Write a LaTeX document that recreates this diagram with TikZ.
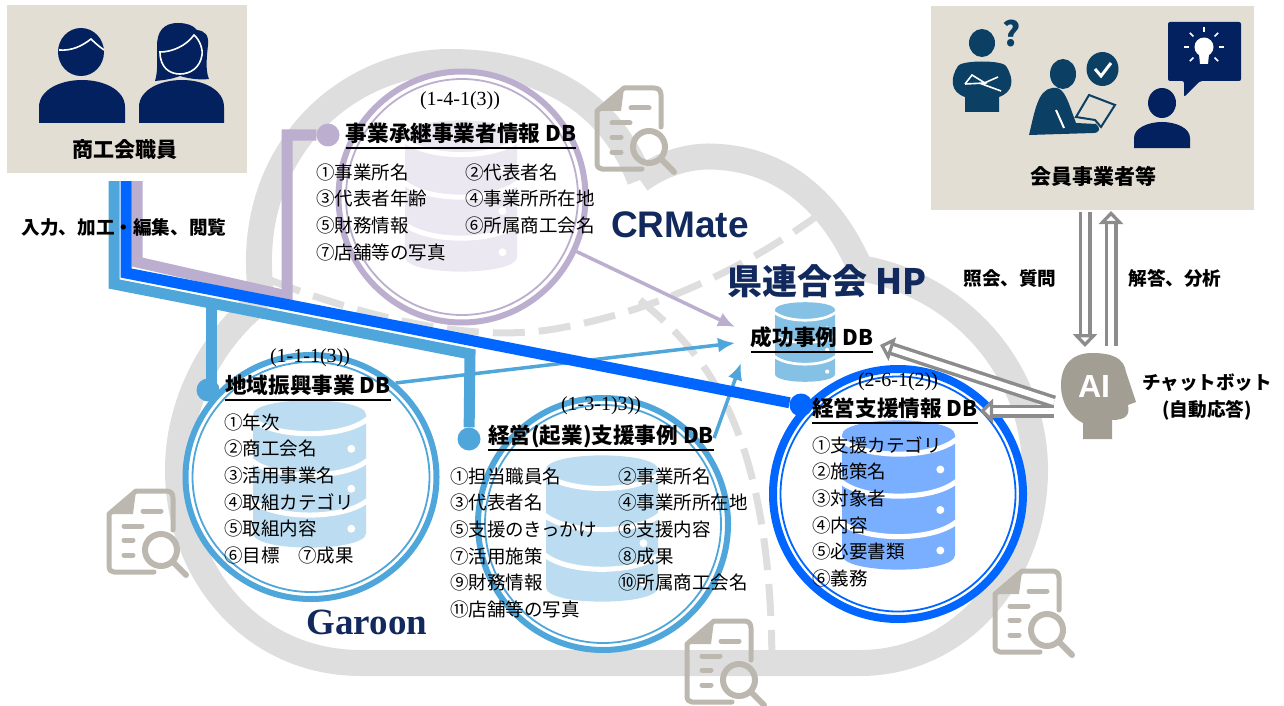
\documentclass[tikz,border=0pt]{standalone}
\usepackage{fontspec}
\setmainfont{Noto Sans CJK JP}
\newfontfamily\numfont{Liberation Serif}
\newfontfamily\logofont{Liberation Sans}
\usetikzlibrary{shapes, arrows, arrows.meta}
\definecolor{navy}{HTML}{03215F}
\definecolor{teal}{HTML}{0B3F63}
\definecolor{logonavy}{HTML}{12295E}
\definecolor{sand}{HTML}{E3DED3}
\definecolor{skyline}{HTML}{4FA6DA}
\definecolor{coreblue}{HTML}{0066FF}
\definecolor{lilac}{HTML}{BCAECF}
\definecolor{cloudgrey}{HTML}{DEDEDE}
\definecolor{icongrey}{HTML}{BDB8AF}
\definecolor{aigrey}{HTML}{A39E93}
\definecolor{hollowgrey}{HTML}{8C8C8C}
\tikzstyle{panel} =
	[
		rectangle,
		fill = sand,
		inner sep = 0pt
	]
\tikzstyle{ringout} =
	[
		ellipse,
		fill = white,
		line width = 6pt,
		inner sep = 0pt
	]
\tikzstyle{ringin} =
	[
		ellipse,
		line width = 1.8pt,
		inner sep = 0pt
	]
\tikzstyle{item} =
	[
		text width = 160pt,
		align = left,
		inner sep = 0pt,
		text height = 16pt,
		text depth = 4pt,
		node distance = 26.7pt,
		font = \fontsize{18.5}{20}\selectfont
	]
\tikzstyle{dbtitle} =
	[
		inner sep = 0pt,
		text height = 17pt,
		text depth = 7pt,
		font = \fontsize{21.6}{24}\selectfont\bfseries
	]
\tikzstyle{code} =
	[
		inner sep = 0pt,
		font = \fontsize{20}{22}\numfont
	]
\tikzstyle{caption} =
	[
		inner sep = 0pt,
		align = center,
		font = \fontsize{18.6}{27}\selectfont\bfseries
	]
\tikzstyle{dot} =
	[
		circle,
		inner sep = 0pt,
		minimum size = 23pt
	]
\tikzstyle{feed} =
	[
		draw,
		line width = 11pt,
		line join = miter
	]
\tikzstyle{line} =
	[
		draw,
		line width = 3.5pt,
		-{Latex[length = 17pt, width = 15pt]}
	]
\tikzstyle{hollow} =
	[
		draw = hollowgrey,
		line width = 3.5pt,
		double = white,
		double distance = 6pt,
		-{Triangle[open, fill = white, length = 13pt, width = 24pt, line width = 3.5pt]}
	]
\tikzstyle{underline} =
	[
		draw,
		line width = 2pt
	]
\newcommand{\dbicon}[5]{
	\begin{scope}[shift = {(#1,#2)}, x = #3pt, y = -#4pt]
		\fill [#5] (0,.1) .. controls (0,-.03) and (1,-.03) .. (1,.1) -- (1,.9) .. controls (1,1.03) and (0,1.03) .. (0,.9) -- cycle;
		\foreach \gap in {.13,.41,.68}
			\draw [white, line width = .045*#3pt] (-.01,\gap) .. controls (.2,\gap+.13) and (.8,\gap+.13) .. (1.01,\gap);
		\foreach \hole in {.33,.6,.87}
			\fill [white] (.87,\hole) circle (.035*#3pt);
	\end{scope}
}
\newcommand{\docicon}[2]{
	\begin{scope}[shift = {(#1,#2)}, draw = icongrey, line cap = round, line join = round]
		\draw [line width = 5pt] (67,42) -- (67,10) .. controls (67,5) and (64,3) .. (60,3) -- (30,3) -- (3,26) -- (3,78) .. controls (3,82) and (5,84) .. (8,84) -- (48,84);
		\fill [icongrey] (30,3) -- (3,26) -- (27,26) -- cycle;
		\draw [line width = 5pt] (37,23) -- (55,23) (18,38) -- (36,38) (18,52) -- (27,52) (18,67) -- (27,67);
		\draw [line width = 6pt] (55,62) circle (16pt) (67,74) -- (80,87);
	\end{scope}
}
\begin{document}
\begin{tikzpicture}[x = 1pt, y = -1pt, node distance = 26.7pt]
	\useasboundingbox (0,0) rectangle (1284,706);
	\draw [cloudgrey, line width = 26pt] (361,663) .. controls (250,663) and (178,570) .. (178,470) .. controls (178,400) and (215,335) .. (262,300);
	\draw [cloudgrey, line width = 26pt] (262,300) .. controls (240,160) and (340,62) .. (450,62) .. controls (540,62) and (610,100) .. (640,180);
	\draw [cloudgrey, line width = 26pt] (640,180) .. controls (670,158) and (700,155) .. (720,157) .. controls (790,162) and (835,210) .. (860,268);
	\draw [cloudgrey, line width = 26pt] (860,268) .. controls (960,285) and (1035,370) .. (1035,470) .. controls (1035,575) and (960,663) .. (860,663) -- (361,663);
	\draw [cloudgrey, line width = 7pt, dash pattern = on 32pt off 14pt] (270,280) .. controls (360,315) and (470,345) .. (560,328) .. controls (660,310) and (750,265) .. (821,213);
	\draw [cloudgrey, line width = 7pt, dash pattern = on 32pt off 14pt] (640,300) .. controls (700,350) and (772,420) .. (772,670);
	\docicon{594}{85}
	\docicon{106}{488}
	\docicon{684}{618}
	\docicon{992}{568}
	\node [panel, minimum width = 240pt, minimum height = 168pt] (staff) at (127,89) {};
	\node [panel, minimum width = 323pt, minimum height = 204pt] (member) at (1092.5,108) {};
	\fill [navy] (81,52) ellipse (23pt and 24pt);
	\draw [white, line width = 1.6pt] (59,50) .. controls (72,51) and (82,46) .. (91,39) .. controls (96,44) and (100,47) .. (104,50);
	\fill [navy] (39,123) -- (39,107) .. controls (39,90) and (60,80) .. (82,80) .. controls (104,80) and (125,90) .. (125,107) -- (125,123) -- cycle;
	\fill [navy] (178,23) .. controls (163,23) and (157,32) .. (157,46) .. controls (157,60) and (158,72) .. (155,81) .. controls (165,80) and (172,79) .. (180,76) .. controls (190,79) and (200,80) .. (209,79) .. controls (205,70) and (207,55) .. (208,45) .. controls (209,35) and (205,31) .. (197,30) .. controls (193,25) and (186,23) .. (178,23) -- cycle;
	\draw [white, line width = 1.6pt] (160,52) .. controls (172,52) and (186,46) .. (194,35) .. controls (200,40) and (203,50) .. (202,55) .. controls (200,68) and (190,74) .. (180,74) .. controls (170,74) and (160,68) .. (160,52) -- cycle;
	\fill [navy] (139,123) -- (139,107) .. controls (139,90) and (160,80) .. (182,80) .. controls (204,80) and (224,90) .. (224,107) -- (224,123) -- cycle;
	\fill [teal] (982,43) ellipse (13pt and 14pt);
	\fill [teal] (965,112) -- (965,97) .. controls (950,92) and (950,78) .. (958,66) .. controls (962,60) and (1002,60) .. (1006,66) .. controls (1015,80) and (1013,92) .. (999,97) -- (999,112) -- cycle;
	\draw [white, line width = 1.6pt] (965,84) -- (972,75) -- (985,83) -- (965,84) (998,77) -- (982,84) -- (1001,91);
	\node [inner sep = 0pt, text = teal, font = \fontsize{34}{36}\selectfont\bfseries] (mark) at (1012,33) {?};
	\fill [teal] (1063,74) ellipse (13pt and 15pt);
	\fill [teal] (1029,135) .. controls (1035,110) and (1038,90) .. (1052,88) .. controls (1062,86) and (1066,95) .. (1072,112) -- (1076,123) -- (1096,124) .. controls (1101,128) and (1100,133) .. (1093,133) -- cycle;
	\draw [white, line width = 2pt] (1056,110) -- (1064,128);
	\draw [teal, fill = sand, line width = 2pt] (1089,95) -- (1115,105) -- (1101,127) -- (1095,120) -- (1076,117) -- cycle;
	\fill [teal] (1102.5,69) ellipse (16pt and 17pt);
	\draw [white, line width = 3pt] (1095,69) -- (1101,76) -- (1111,63);
	\fill [navy] (1162,103) ellipse (14pt and 15pt);
	\fill [navy] (1134,148) -- (1134,138) .. controls (1134,128) and (1148,122) .. (1162,122) .. controls (1176,122) and (1190,128) .. (1190,138) -- (1190,148) -- cycle;
	\fill [navy, rounded corners = 2pt] (1168,22) -- (1241,22) -- (1241,81) -- (1200,81) -- (1184,97) -- (1184,81) -- (1168,81) -- cycle;
	\fill [white] (1204,47) circle (9.5pt);
	\fill [white] (1199,54) -- (1209,54) -- (1208,64) -- (1200,64) -- cycle;
	\foreach \ang in {45,90,...,315}
		\draw [white, line width = 1.6pt] (1204,47) ++(\ang-90:15pt) -- ++(\ang-90:5pt);
	\node [ringout, draw = lilac, minimum width = 247pt, minimum height = 251pt] (ringd) at (462,197) {};
	\node [ringin, draw = lilac, minimum width = 232pt, minimum height = 236pt] (ringdin) at (ringd.center) {};
	\node [ringout, draw = skyline, minimum width = 251pt, minimum height = 244pt] (ringa) at (311,477) {};
	\node [ringin, draw = skyline, minimum width = 237pt, minimum height = 230pt] (ringain) at (ringa.center) {};
	\node [ringout, draw = skyline, minimum width = 250pt, minimum height = 252pt] (ringb) at (603,524) {};
	\node [ringin, draw = skyline, minimum width = 236pt, minimum height = 238pt] (ringbin) at (ringb.center) {};
	\node [ringout, draw = coreblue, line width = 8pt, minimum width = 250pt, minimum height = 250pt] (ringc) at (898,494) {};
	\node [ringin, draw = coreblue, minimum width = 235pt, minimum height = 235pt] (ringcin) at (ringc.center) {};
	\dbicon{405}{120}{112}{152}{lilac!28}
	\dbicon{253}{400}{113}{148}{skyline!38}
	\dbicon{546}{455}{112}{147}{skyline!38}
	\dbicon{842}{420}{113}{150}{coreblue!52}
	\dbicon{775}{302}{60}{80}{skyline!70}
	\node [code] (coded) at (460,101) {(1-4-1(3))};
	\node [dbtitle] (titled) at (461,136) {事業承継事業者情報 DB};
	\path [underline] (titled.south west) -- (titled.south east);
	\node [item] (d1) at (396,173) {①事業所名};
	\node [item, below of = d1] (d3) {③代表者年齢};
	\node [item, below of = d3] (d5) {⑤財務情報};
	\node [item, below of = d5] (d7) {⑦店舗等の写真};
	\node [item, right of = d1, node distance = 149pt] (d2) {②代表者名};
	\node [item, right of = d3, node distance = 149pt] (d4) {④事業所所在地};
	\node [item, right of = d5, node distance = 149pt] (d6) {⑥所属商工会名};
	\node [code] (codea) at (310,358) {(1-1-1(3))};
	\node [dbtitle] (titlea) at (308,388) {地域振興事業 DB};
	\path [underline] (titlea.south west) -- (titlea.south east);
	\node [item] (a1) at (304,423) {①年次};
	\node [item, below of = a1] (a2) {②商工会名};
	\node [item, below of = a2] (a3) {③活用事業名};
	\node [item, below of = a3] (a4) {④取組カテゴリ};
	\node [item, below of = a4] (a5) {⑤取組内容};
	\node [item, below of = a5] (a6) {⑥目標　⑦成果};
	\node [code] (codeb) at (601,406) {(1-3-1)3))};
	\node [dbtitle] (titleb) at (601,438) {経営(起業)支援事例 DB};
	\path [underline] (titleb.south west) -- (titleb.south east);
	\node [item] (b1) at (530,477) {①担当職員名};
	\node [item, below of = b1] (b3) {③代表者名};
	\node [item, below of = b3] (b5) {⑤支援のきっかけ};
	\node [item, below of = b5] (b7) {⑦活用施策};
	\node [item, below of = b7] (b9) {⑨財務情報};
	\node [item, below of = b9] (b11) {⑪店舗等の写真};
	\node [item, right of = b1, node distance = 168pt] (b2) {②事業所名};
	\node [item, right of = b3, node distance = 168pt] (b4) {④事業所所在地};
	\node [item, right of = b5, node distance = 168pt] (b6) {⑥支援内容};
	\node [item, right of = b7, node distance = 168pt] (b8) {⑧成果};
	\node [item, right of = b9, node distance = 168pt] (b10) {⑩所属商工会名};
	\node [code] (codec) at (898,382) {(2-6-1(2))};
	\node [dbtitle] (titlec) at (895,411) {経営支援情報 DB};
	\path [underline] (titlec.south west) -- (titlec.south east);
	\node [item] (c1) at (892,446) {①支援カテゴリ};
	\node [item, below of = c1] (c2) {②施策名};
	\node [item, below of = c2] (c3) {③対象者};
	\node [item, below of = c3] (c4) {④内容};
	\node [item, below of = c4] (c5) {⑤必要書類};
	\node [item, below of = c5] (c6) {⑥義務};
	\node [dbtitle] (hpdb) at (812,340) {成功事例 DB};
	\path [underline] (hpdb.south west) -- (hpdb.south east);
	\node [inner sep = 0pt, font = \fontsize{21}{23}\selectfont\bfseries] (stafftext) at (125,150) {商工会職員};
	\node [inner sep = 0pt, font = \fontsize{21}{23}\selectfont\bfseries] (membertext) at (1093,176) {会員事業者等};
	\node [inner sep = 0pt, text = logonavy, font = \fontsize{37}{40}\logofont\bfseries] (crmate) at (680,225) {CRMate};
	\node [inner sep = 0pt, text = logonavy, font = \fontsize{35}{38}\selectfont\bfseries] (hpname) at (827,281) {県連合会 HP};
	\node [inner sep = 0pt, text = logonavy, font = \fontsize{37}{40}\numfont\bfseries] (garoon) at (367,622) {Garoon};
	\fill [aigrey] (1083,439) -- (1083,423) .. controls (1072,418) and (1061,405) .. (1061,385) .. controls (1061,365) and (1072,353) .. (1092,353) .. controls (1112,353) and (1124,358) .. (1126,372) -- (1136,402) -- (1128,405) .. controls (1130,415) and (1126,420) .. (1112,420) -- (1112,439) -- cycle;
	\node [inner sep = 0pt, text = white, font = \fontsize{32}{34}\logofont\bfseries] (aitext) at (1094,386) {AI};
	\node [caption] (chatbot) at (1207,397) {チャットボット\\(自動応答)};
	\node [caption] (asktext) at (1010,278) {照会、質問};
	\node [caption] (answertext) at (1175,278) {解答、分析};
	\node [dot, fill = lilac] (dotd) at (328,135) {};
	\node [dot, fill = skyline] (dota) at (208,390) {};
	\node [dot, fill = skyline] (dotb) at (469,439) {};
	\node [dot, fill = coreblue] (dotc) at (801,405) {};
	\coordinate (lilacstart) at (137,181);
	\coordinate (lilacbend) at (137,262);
	\coordinate (lilacrise) at (287,296);
	\coordinate (lilactop) at (287,135);
	\coordinate (skystart) at (114,181);
	\coordinate (skybend) at (114,284);
	\coordinate (skyturn) at (470,354);
	\coordinate (skyfork) at (211,303);
	\coordinate (skydrop) at (211,390);
	\coordinate (bluestart) at (126,181);
	\coordinate (bluebend) at (126,273);
	\coordinate (hpa) at (735,327);
	\coordinate (hpb) at (735,343);
	\coordinate (hpc) at (741,363);
	\coordinate (askstart) at (1085,212);
	\coordinate (askend) at (1085,347);
	\coordinate (answerstart) at (1111,346);
	\coordinate (answerend) at (1111,211);
	\coordinate (aiupper) at (1054,402);
	\coordinate (ailower) at (1054,411);
	\coordinate (hptip) at (880,345);
	\coordinate (ctip) at (980,411);
	\path [line, draw = lilac] (ringd) -- (hpa);
	\path [line, draw = skyline] (ringa.48) -- (hpb);
	\path [line, draw = skyline] (titleb.east) -- (hpc);
	\path [feed, draw = lilac] (lilacstart) -- (lilacbend) -- (lilacrise) -- (lilactop) -- (dotd);
	\path [feed, draw = skyline] (skystart) -- (skybend) -- (skyturn) -- (dotb);
	\path [feed, draw = skyline] (skyfork) -- (skydrop);
	\path [feed, draw = coreblue] (bluestart) -- (bluebend) -- (dotc);
	\path [hollow] (askstart) -- (askend);
	\path [hollow] (answerstart) -- (answerend);
	\path [hollow] (aiupper) -- (hptip);
	\path [hollow] (ailower) -- (ctip);
	\node [caption] (inputtext) at (124,227) {入力、加工・編集、閲覧};
\end{tikzpicture}
\end{document}
